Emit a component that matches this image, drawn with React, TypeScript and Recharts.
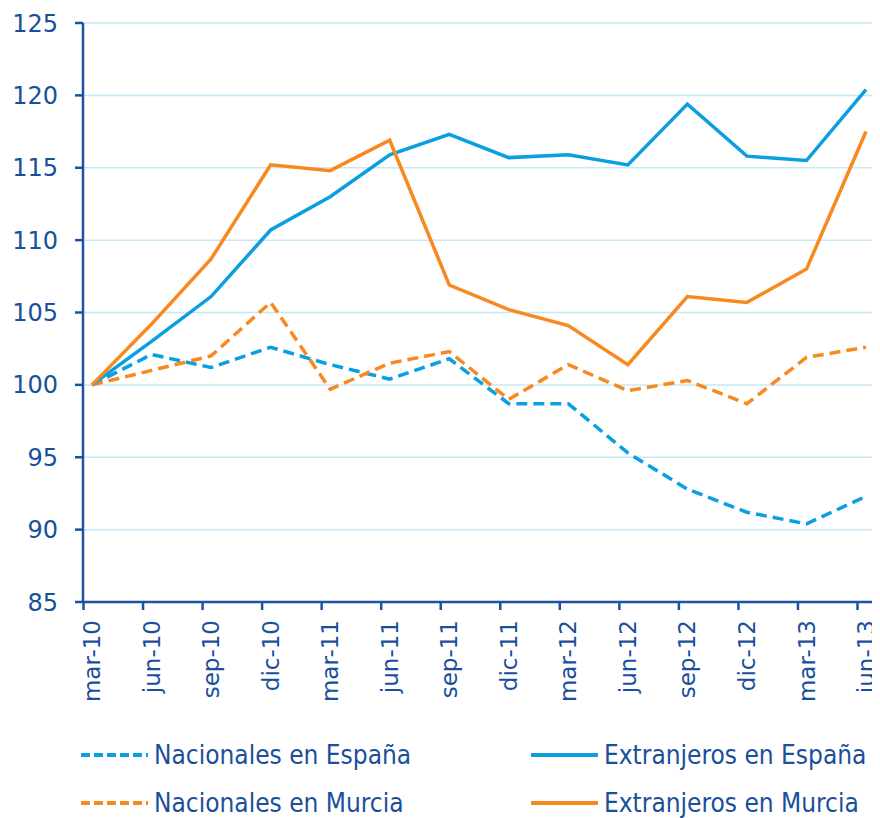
import React from "react";
import { LineChart, Line, XAxis, YAxis, CartesianGrid, Legend } from "recharts";

const categories = ["mar-10", "jun-10", "sep-10", "dic-10", "mar-11", "jun-11", "sep-11", "dic-11", "mar-12", "jun-12", "sep-12", "dic-12", "mar-13", "jun-13"];
const nacionalesEspana = [100, 102.1, 101.2, 102.6, 101.4, 100.4, 101.8, 98.7, 98.7, 95.3, 92.8, 91.2, 90.4, 92.3];
const extranjerosEspana = [100, 103.0, 106.1, 110.7, 113.0, 115.9, 117.3, 115.7, 115.9, 115.2, 119.4, 115.8, 115.5, 120.4];
const nacionalesMurcia = [100, 101.0, 102.0, 105.7, 99.7, 101.5, 102.3, 99.0, 101.4, 99.6, 100.3, 98.7, 101.9, 102.6];
const extranjerosMurcia = [100, 104.2, 108.7, 115.2, 114.8, 116.9, 106.9, 105.2, 104.1, 101.4, 106.1, 105.7, 108.0, 117.5];
const yTicks = [85, 90, 95, 100, 105, 110, 115, 120, 125];

const data = categories.map((c, i) => ({
  cat: c,
  nacEsp: nacionalesEspana[i],
  extEsp: extranjerosEspana[i],
  nacMur: nacionalesMurcia[i],
  extMur: extranjerosMurcia[i],
}));

const BLUE = "#0a9fe0";
const ORANGE = "#f7891f";
const AXIS = "#1d52a1";
const TEXT = "#1a4f9c";
const GRID = "#c9e8f6";

const XTick = (props: any) => {
  const { x, y, payload } = props;
  const axisY = y - 18;
  return (
    <g>
      <line x1={x - 8.5} x2={x - 8.5} y1={axisY} y2={axisY + 8} stroke={AXIS} strokeWidth={2.5} />
      <text
        x={x}
        y={y}
        dy="0.35em"
        textAnchor="end"
        transform={`rotate(-90, ${x}, ${y})`}
        fill={TEXT}
        fontSize={23}
        fontFamily="DejaVu Sans"
      >
        {payload.value}
      </text>
    </g>
  );
};

const legendItems = [
  { label: "Nacionales en España", color: BLUE, dashed: true, left: 72, top: 43 },
  { label: "Extranjeros en España", color: BLUE, dashed: false, left: 522, top: 43 },
  { label: "Nacionales en Murcia", color: ORANGE, dashed: true, left: 72, top: 91 },
  { label: "Extranjeros en Murcia", color: ORANGE, dashed: false, left: 522, top: 91 },
];

const LegendContent = () => (
  <div style={{ position: "relative", width: 872, height: 106 }}>
    {legendItems.map((it) => (
      <div
        key={it.label}
        style={{
          position: "absolute",
          left: it.left,
          top: it.top - 16,
          height: 32,
          display: "flex",
          alignItems: "center",
        }}
      >
        <svg width={70} height={10} style={{ display: "block" }}>
          <line
            x1={1}
            x2={68}
            y1={5}
            y2={5}
            stroke={it.color}
            strokeWidth={4}
            strokeDasharray={it.dashed ? "9 4" : undefined}
          />
        </svg>
        <span
          style={{
            marginLeft: 4,
            fontFamily: "DejaVu Sans Condensed",
            fontSize: 26,
            color: TEXT,
            whiteSpace: "nowrap",
            lineHeight: "32px",
          }}
        >
          {it.label}
        </span>
      </div>
    ))}
  </div>
);

export default function App() {
  return (
    <LineChart width={872} height={810} data={data} margin={{ top: 15, right: 4, left: 0, bottom: 0 }} style={{ overflow: "visible" }}>
      <CartesianGrid horizontal vertical={false} stroke={GRID} strokeWidth={1.5} />
      <XAxis
        dataKey="cat"
        interval={0}
        height={110}
        tickSize={8}
        tickMargin={10}
        tickLine={false}
        tick={<XTick />}
        padding={{ left: 9, right: 10 }}
        axisLine={{ stroke: AXIS, strokeWidth: 2.5 }}
      />
      <YAxis
        domain={[85, 125]}
        ticks={yTicks}
        interval={0}
        width={75}
        tickSize={8}
        tickMargin={17}
        tick={{ fill: TEXT, fontSize: 24, fontFamily: "DejaVu Sans" }}
        tickLine={{ stroke: AXIS, strokeWidth: 2.5 }}
        axisLine={{ stroke: AXIS, strokeWidth: 2.5 }}
      />
      <Legend verticalAlign="bottom" content={<LegendContent />} wrapperStyle={{ left: 0, width: 872 }} />
      <Line type="linear" dataKey="nacEsp" name="Nacionales en España" stroke={BLUE} strokeWidth={3.5} strokeDasharray="11 6" dot={false} isAnimationActive={false} />
      <Line type="linear" dataKey="nacMur" name="Nacionales en Murcia" stroke={ORANGE} strokeWidth={3.5} strokeDasharray="11 6" dot={false} isAnimationActive={false} />
      <Line type="linear" dataKey="extEsp" name="Extranjeros en España" stroke={BLUE} strokeWidth={3.5} dot={false} isAnimationActive={false} />
      <Line type="linear" dataKey="extMur" name="Extranjeros en Murcia" stroke={ORANGE} strokeWidth={3.5} dot={false} isAnimationActive={false} />
    </LineChart>
  );
}
